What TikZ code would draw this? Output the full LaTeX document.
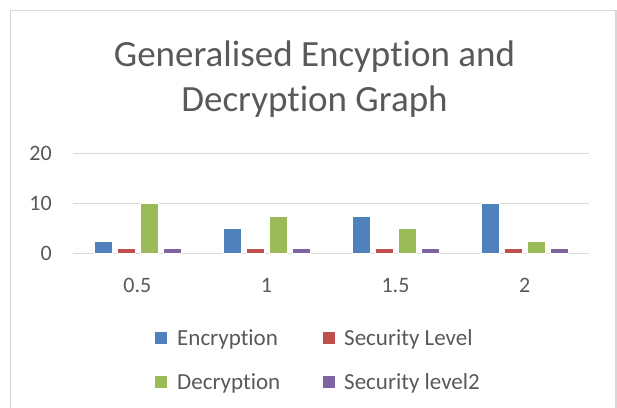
\documentclass[tikz,border=0pt]{standalone}
\usepackage{fontspec}
\setmainfont{Carlito}[Ligatures={NoCommon,NoContextual}]
\definecolor{txt}{HTML}{595959}
\definecolor{gridc}{HTML}{D9D9D9}
\definecolor{enc}{HTML}{4F81BD}
\definecolor{seca}{HTML}{C0504D}
\definecolor{dec}{HTML}{9BBB59}
\definecolor{secb}{HTML}{8064A2}
\tikzset{
  lbl/.style={text=txt,font=\fontsize{22}{26}\selectfont,inner sep=0pt},
  leg/.style={lbl,font=\fontsize{23}{27}\selectfont,anchor=base west},
  ttl/.style={text=txt,font=\fontsize{37}{44}\selectfont,inner sep=0pt,anchor=base},
  key/.style={minimum size=12pt,inner sep=0pt,anchor=south west},
  bar/.style={draw=white,line width=0.6pt},
}
\begin{document}
\begin{tikzpicture}[x=1pt,y=-1pt]
  \useasboundingbox (0,0) rectangle (617,407);
  \draw[gridc,line width=1.5pt] (10.5,420) -- (10.5,10.5) -- (616,10.5) -- (616,420);
  \node[ttl] (title1) at (314.5,66.7) {Generalised Encyption and};
  \node[ttl] (title2) at (314.5,111.2) {Decryption Graph};
  % value axis
  \foreach \v/\y in {0/253.3,10/203.3,20/153.3}{
    \draw[gridc,line width=1.2pt] (72.7,\y) -- (589,\y);
    \node[lbl,anchor=east] (yl\v) at (52,\y) {\v};
  }
  % bars, 5pt per unit
  \foreach \c/\x/\e/\d [count=\i] in {0.5/137.3/2.5/10, 1/266.4/5/7.5, 1.5/395.5/7.5/5, 2/524.6/10/2.5}{
    \filldraw[bar,fill=enc] ({\x-43.5},253.3) rectangle ({\x-25.5},{253.3-5*\e});
    \filldraw[bar,fill=seca] ({\x-20.5},253.3) rectangle ({\x-2.5},248.3);
    \filldraw[bar,fill=dec] ({\x+2.5},253.3) rectangle ({\x+20.5},{253.3-5*\d});
    \filldraw[bar,fill=secb] ({\x+25.5},253.3) rectangle ({\x+43.5},248.3);
    \node[lbl,anchor=base] (xl\i) at (\x,292.3) {\c};
  }
  % legend
  \node[key,fill=enc] (kenc) at (155,344) {};
  \node[leg] (lenc) at (177,345.5) {Encryption};
  \node[key,fill=seca] (kseca) at (323,344) {};
  \node[leg] (lseca) at (344,345.5) {Security Level};
  \node[key,fill=dec] (kdec) at (155,388) {};
  \node[leg] (ldec) at (177,389.5) {Decryption};
  \node[key,fill=secb] (ksecb) at (323,388) {};
  \node[leg] (lsecb) at (344,389.5) {Security level2};
\end{tikzpicture}
\end{document}
